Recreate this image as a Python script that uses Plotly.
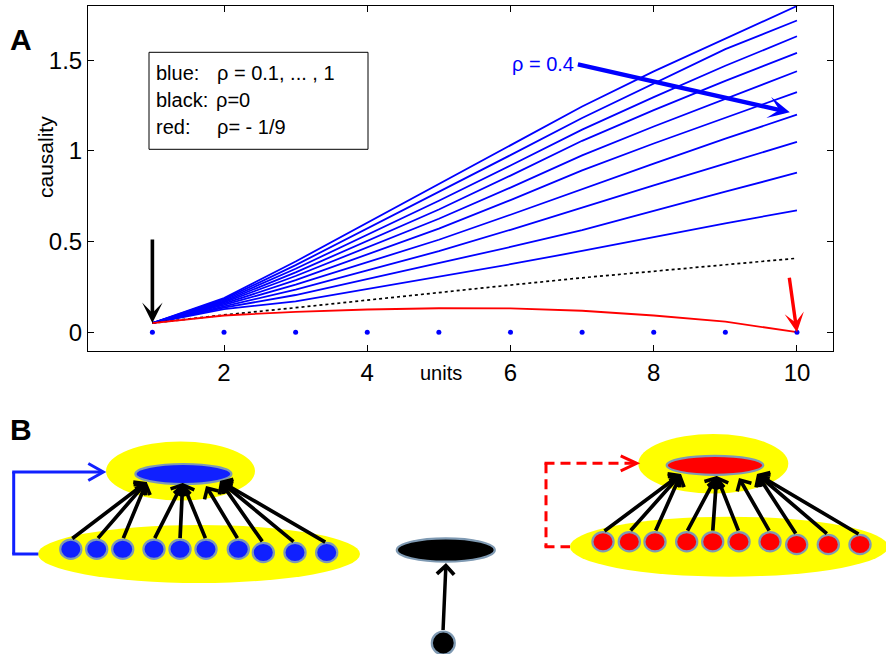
import plotly.graph_objects as go

# ---------------- data (panel A) ----------------
units = [1, 2, 3, 4, 5, 6, 7, 8, 9, 10]
x_tick_vals = [2, 4, 6, 8, 10]
y_tick_vals = [0, 0.5, 1, 1.5]
y_tick_text = ["0", "0.5", "1", "1.5"]

caus_rho_01 = [0.05, 0.127, 0.170, 0.237, 0.304, 0.375, 0.448, 0.524, 0.601, 0.672]
caus_rho_02 = [0.05, 0.135, 0.205, 0.292, 0.379, 0.470, 0.563, 0.667, 0.775, 0.880]
caus_rho_03 = [0.05, 0.143, 0.235, 0.341, 0.447, 0.565, 0.689, 0.810, 0.930, 1.050]
caus_rho_04 = [0.05, 0.150, 0.262, 0.386, 0.510, 0.648, 0.791, 0.930, 1.068, 1.200]
caus_rho_05 = [0.05, 0.157, 0.287, 0.429, 0.571, 0.729, 0.893, 1.041, 1.184, 1.325]
caus_rho_06 = [0.05, 0.164, 0.310, 0.468, 0.626, 0.798, 0.976, 1.135, 1.288, 1.440]
caus_rho_07 = [0.05, 0.170, 0.330, 0.503, 0.677, 0.864, 1.056, 1.225, 1.387, 1.541]
caus_rho_08 = [0.05, 0.176, 0.350, 0.537, 0.725, 0.920, 1.118, 1.297, 1.470, 1.633]
caus_rho_09 = [0.05, 0.182, 0.370, 0.571, 0.773, 0.977, 1.182, 1.374, 1.562, 1.720]
caus_rho_10 = [0.05, 0.188, 0.390, 0.604, 0.818, 1.031, 1.245, 1.439, 1.619, 1.800]
caus_rho_0 = [0.05, 0.095, 0.135, 0.178, 0.220, 0.260, 0.300, 0.337, 0.372, 0.408]
caus_rho_neg = [0.05, 0.092, 0.112, 0.125, 0.132, 0.131, 0.118, 0.092, 0.058, 0.0]
unit_markers = [0, 0, 0, 0, 0, 0, 0, 0, 0, 0]

blue_curves = [caus_rho_01, caus_rho_02, caus_rho_03, caus_rho_04, caus_rho_05,
               caus_rho_06, caus_rho_07, caus_rho_08, caus_rho_09, caus_rho_10]

FONT = "Liberation Sans, Arial, Helvetica, sans-serif"
BLUE = "#0000ff"

fig = go.Figure()
for curve in blue_curves:
    fig.add_trace(go.Scatter(x=units, y=curve, mode="lines",
                             line=dict(color=BLUE, width=1.8), xaxis="x", yaxis="y"))
fig.add_trace(go.Scatter(x=units, y=caus_rho_0, mode="lines",
                         line=dict(color="black", width=1.7, dash="dot"), xaxis="x", yaxis="y"))
fig.add_trace(go.Scatter(x=units, y=caus_rho_neg, mode="lines",
                         line=dict(color="#ff0000", width=1.8), xaxis="x", yaxis="y"))
fig.add_trace(go.Scatter(x=units, y=unit_markers, mode="markers",
                         marker=dict(color=BLUE, size=5), xaxis="x", yaxis="y"))

# ---------------- panel B diagram geometry (pixel space on hidden axes) ----------------
YELLOW = "#ffff00"
RING = "#7f9ab3"
DBLUE = "#1020ff"
RED = "#ff0000"

shapes = []
annotations = []


def ell(cx, cy, rx, ry, fill, line_color=None, lw=0):
    d = dict(type="circle", xref="x2", yref="y2", x0=cx - rx, x1=cx + rx,
             y0=cy - ry, y1=cy + ry, fillcolor=fill, layer="above",
             line=dict(width=lw, color=line_color if line_color else fill))
    return d


def seg(x0, y0, x1, y1, color, w=3, dash="solid"):
    return dict(type="line", xref="x2", yref="y2", x0=x0, y0=y0, x1=x1, y1=y1,
                layer="above", line=dict(color=color, width=w, dash=dash))


def chevron(tx, ty, color, length=15, half=8.5, w=3):
    return dict(type="path", xref="x2", yref="y2", layer="above",
                path=f"M{tx - length},{ty - half} L{tx},{ty} L{tx - length},{ty + half}",
                line=dict(color=color, width=w))


def arrow(tx, ty, sx, sy, color="black", w=3.7, size=0.85, head=4):
    return dict(x=tx, y=ty, ax=sx, ay=sy, xref="x2", yref="y2", axref="x2", ayref="y2",
                text="", showarrow=True, arrowhead=head, arrowsize=size,
                arrowwidth=w, arrowcolor=color, standoff=0)


# left diagram (blue)
left_top = (180.5, 471, 74.5, 29.5)
left_bottom = (199, 554, 161, 29)
left_core = (183.4, 474, 48, 10)
left_xs = [70.8, 96.7, 122.7, 154, 180, 206, 238.3, 263.3, 295, 326.7]
left_ys = [549.2] * 7 + [552.5] * 3
left_tips = [(146.7, 482)] * 3 + [(182.7, 483)] * 3 + [(206, 486)] + [(220, 481)] * 3

# right diagram (red)
right_top = (713.3, 463.7, 75, 29.7)
right_bottom = (729, 546.7, 159, 30)
right_core = (715, 465.3, 48.3, 9.5)
right_xs = [603, 629.3, 655, 686.7, 712.7, 739, 770, 796.7, 828.3, 860]
right_ys = [541.7] * 7 + [544.5] * 3
right_tips = [(681, 474)] * 3 + [(716.7, 476)] * 3 + [(739, 478)] + [(757, 474)] * 3

node_rx, node_ry = 10.6, 9.6

for top, bottom, core, xs, ys, tips, col in [
    (left_top, left_bottom, left_core, left_xs, left_ys, left_tips, DBLUE),
    (right_top, right_bottom, right_core, right_xs, right_ys, right_tips, RED),
]:
    shapes.append(ell(*top, YELLOW))
    shapes.append(ell(*bottom, YELLOW))
    shapes.append(ell(*core, col, RING, 2.2))
    for cx, cy in zip(xs, ys):
        shapes.append(ell(cx, cy, node_rx, node_ry, col, RING, 2.2))
    for (cx, cy), (tx, ty) in zip(zip(xs, ys), tips):
        annotations.append(arrow(tx, ty, cx, cy - node_ry))

# blue feedback bracket
shapes += [seg(13.7, 472, 13.7, 554, DBLUE), seg(12.2, 554, 38.3, 554, DBLUE),
           seg(12.2, 472, 102, 472, DBLUE), chevron(103.3, 472, DBLUE)]
# red dashed feedback bracket
shapes += [seg(546, 463.3, 546, 546.7, RED, dash="10px,6px"),
           seg(544.5, 546.7, 570, 546.7, RED, dash="10px,6px"),
           seg(544.5, 463.3, 635, 463.3, RED, dash="10px,6px"),
           chevron(636.7, 463.3, RED, length=16, half=7.5)]

# middle diagram (black)
shapes.append(ell(445.8, 550, 49, 11.7, "black", RING, 2.2))
shapes.append(ell(443.3, 643, 11.5, 11.5, "black", RING, 2.2))
annotations.append(arrow(446, 563, 443, 631.5, w=3.5, size=0.95))

# legend box in panel A
shapes.append(dict(type="rect", xref="x2", yref="y2", x0=149, x1=368, y0=52.3, y1=149.3,
                   line=dict(color="black", width=1), fillcolor="white", layer="above"))


def txt(x, y, s, size=20, color="black", xanchor="left", **kw):
    d = dict(x=x, y=y, xref="x2", yref="y2", text=s, showarrow=False, xanchor=xanchor,
             yanchor="middle", borderpad=0, font=dict(size=size, color=color, family=FONT))
    d.update(kw)
    return d


annotations += [
    txt(155, 73, "blue:"), txt(216, 73, "\u03c1 = 0.1, ... , 1"),
    txt(155, 100, "black:"), txt(215, 100, "\u03c1=0"),
    txt(155, 127, "red:"), txt(216, 127, "\u03c1= - 1/9"),
    txt(21, 39, "<b>A</b>", size=30, xanchor="center"),
    txt(21, 429, "<b>B</b>", size=30, xanchor="center"),
    txt(45, 157, "causality", size=21, xanchor="center", textangle=-90),
    txt(441, 373, "units", size=20, xanchor="center"),
]

# arrows in panel A (data coordinates)
annotations += [
    dict(x=units[0], y=caus_rho_0[0], ax=units[0], ay=0.52, xref="x", yref="y",
         axref="x", ayref="y", text="", showarrow=True, arrowhead=3, arrowsize=0.95,
         arrowwidth=3.6, arrowcolor="black", standoff=0),
    dict(x=units[-1], y=caus_rho_neg[-1], ax=9.89, ay=0.308, xref="x", yref="y",
         axref="x", ayref="y", text="", showarrow=True, arrowhead=3, arrowsize=0.95,
         arrowwidth=3.4, arrowcolor="#ff0000", standoff=0),
    dict(x=9.9, y=1.213, ax=6.92, ay=1.48, xref="x", yref="y",
         axref="x", ayref="y", text="", showarrow=True, arrowhead=3, arrowsize=0.8,
         arrowwidth=4.5, arrowcolor=BLUE, standoff=0),
    dict(x=6.9, y=1.48, xref="x", yref="y", text="\u03c1 = 0.4", showarrow=False,
         xanchor="right", yanchor="middle", borderpad=0,
         font=dict(size=20, color=BLUE, family=FONT)),
]

axis_common = dict(ticks="inside", ticklen=6, tickcolor="black", tickwidth=1,
                   showline=True, linecolor="black", linewidth=1, mirror="ticks",
                   showgrid=False, zeroline=False,
                   tickfont=dict(size=24, color="black", family=FONT))

fig.update_layout(
    width=886, height=654, margin=dict(l=0, r=0, t=0, b=0),
    paper_bgcolor="white", plot_bgcolor="rgba(0,0,0,0)", showlegend=False,
    font=dict(family=FONT, color="black"),
    xaxis=dict(domain=[88 / 886, 833 / 886], range=[0.101, 10.503], anchor="y",
               tickvals=x_tick_vals, ticklabelstandoff=0, **axis_common),
    yaxis=dict(domain=[1 - 351 / 654, 1 - 6 / 654], range=[-0.104, 1.8], anchor="x",
               tickvals=y_tick_vals, ticktext=y_tick_text, **axis_common),
    xaxis2=dict(domain=[0, 1], range=[0, 886], visible=False, anchor="y2", fixedrange=True),
    yaxis2=dict(domain=[0, 1], range=[654, 0], visible=False, anchor="x2", fixedrange=True),
    shapes=shapes,
    annotations=annotations,
)

fig.write_html("out.html", config={"displayModeBar": False},
               post_script="document.body.style.margin='0';document.body.style.overflow='hidden';")
